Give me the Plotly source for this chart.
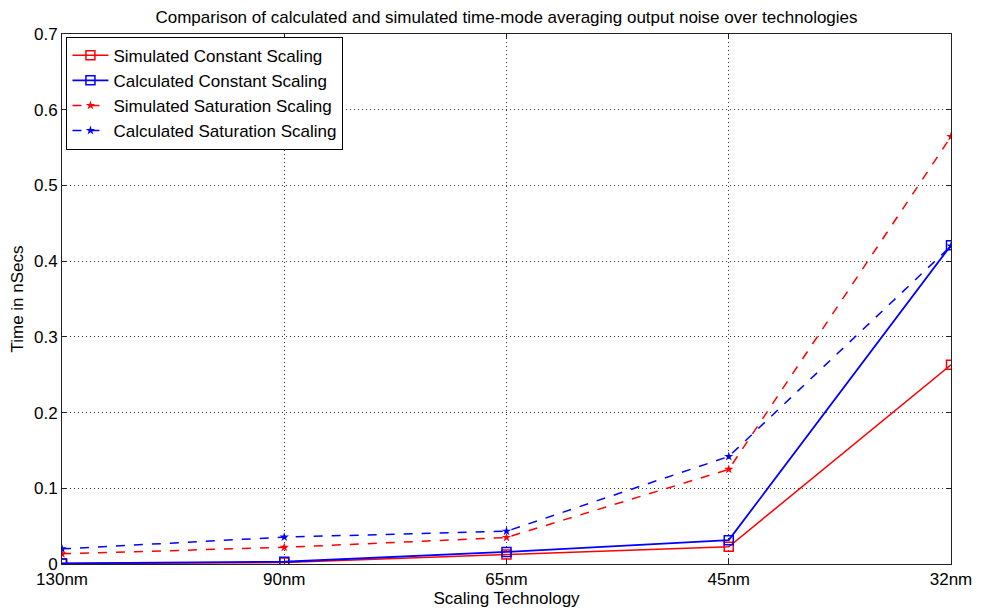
import plotly.graph_objects as go

categories = ["130nm", "90nm", "65nm", "45nm", "32nm"]
sim_const = [0.0005, 0.002, 0.0126, 0.0227, 0.263]
calc_const = [0.0008, 0.003, 0.016, 0.0315, 0.421]
sim_sat = [0.0135, 0.022, 0.035, 0.125, 0.5645]
calc_sat = [0.020, 0.0355, 0.0433, 0.142, 0.420]
y_ticks = [0, 0.1, 0.2, 0.3, 0.4, 0.5, 0.6, 0.7]
y_tick_labels = ["0", "0.1", "0.2", "0.3", "0.4", "0.5", "0.6", "0.7"]

xpos = list(range(len(categories)))
FONT = "Liberation Sans, Arial, sans-serif"

fig = go.Figure()
fig.add_trace(go.Scatter(x=xpos, y=sim_const, name="Simulated Constant Scaling",
                         mode="lines+markers", line=dict(color="#ff0000", width=1.5),
                         marker=dict(symbol="square-open", size=9, color="#ff0000", line=dict(width=1.5))))
fig.add_trace(go.Scatter(x=xpos, y=calc_const, name="Calculated Constant Scaling",
                         mode="lines+markers", line=dict(color="#0000ff", width=1.8),
                         marker=dict(symbol="square-open", size=9, color="#0000ff", line=dict(width=1.5))))
fig.add_trace(go.Scatter(x=xpos, y=sim_sat, name="Simulated Saturation Scaling",
                         mode="lines+markers", line=dict(color="#ff0000", width=1.5, dash="dash"),
                         marker=dict(symbol="star", size=7, color="#ff0000")))
fig.add_trace(go.Scatter(x=xpos, y=calc_sat, name="Calculated Saturation Scaling",
                         mode="lines+markers", line=dict(color="#0000ff", width=1.5, dash="dash"),
                         marker=dict(symbol="star", size=7, color="#0000ff")))

grid_style = dict(showgrid=True, gridcolor="#333333", griddash="1px,3px", gridwidth=1)

fig.update_layout(
    width=984, height=613,
    margin=dict(l=62, r=27, t=34, b=46),
    paper_bgcolor="white", plot_bgcolor="white",
    font=dict(family=FONT, size=17, color="black"),
    title=dict(text="Comparison of calculated and simulated time-mode averaging output noise over technologies",
               x=0.5, xref="paper", y=0.982, yanchor="top", font=dict(size=17, family=FONT)),
    legend=dict(x=0.005, y=0.995, xanchor="left", yanchor="top", bgcolor="white",
                bordercolor="black", borderwidth=1, font=dict(size=17, family=FONT),
                tracegroupgap=0, itemwidth=36),
    xaxis=dict(range=[0, 4], tickmode="array", tickvals=xpos, ticktext=categories,
               showline=True, linecolor="#222222", linewidth=1, mirror="ticks",
               ticks="inside", ticklen=5, tickcolor="#222222",
               zeroline=False, **grid_style,
               title=dict(text="Scaling Technology", standoff=0, font=dict(size=17))),
    yaxis=dict(range=[0, 0.7], tickmode="array", tickvals=y_ticks, ticktext=y_tick_labels,
               showline=True, linecolor="#222222", linewidth=1, mirror="ticks",
               ticks="inside", ticklen=5, tickcolor="#222222",
               zeroline=False, **grid_style,
               title=dict(text="Time in nSecs", standoff=6, font=dict(size=17))),
)

fig.write_html("out.html")
